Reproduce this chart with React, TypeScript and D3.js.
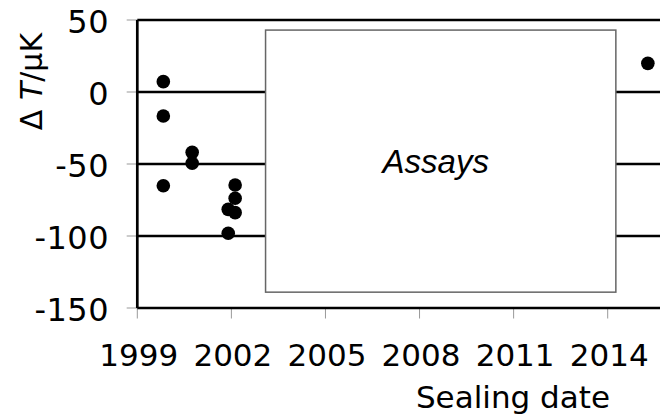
import * as d3 from "d3";
import * as React from "react";

// sealing date (decimal year) and temperature difference in microkelvin
const sealingYears = [1999.83, 1999.83, 1999.83, 2000.75, 2000.75, 2002.12, 2002.12, 2001.9, 2002.12, 2001.9, 2015.28];
const deltaT = [7.2, -16.7, -65.1, -41.9, -49.5, -64.6, -73.8, -81.5, -83.8, -98.1, 19.9];

const xTickYears = [1999, 2002, 2005, 2008, 2011, 2014];
const yTicks = [50, 0, -50, -100, -150];
const yGrid = [0, -50, -100];

// the "Assays" box (years / µK)
const assayYears = [2003.09, 2014.26];
const assayRange = [43, -139];
const assayLabel = "Assays";

const xTitle = "Sealing date";

export default function App() {
  const ref = React.useRef<SVGSVGElement>(null);

  React.useEffect(() => {
    const width = 660;
    const height = 416;

    const svg = d3.select(ref.current);
    svg.selectAll("*").remove();
    svg.attr("width", width).attr("height", height);

    // axis continues past the right edge of the picture
    const x = d3.scaleLinear().domain([1999, 2014]).range([137.3, 607.7]);
    const y = d3.scaleLinear().domain([-150, 50]).range([308, 20]);

    const font = "'DejaVu Sans', Verdana, sans-serif";

    // grid lines
    svg.append("g")
      .selectAll("line")
      .data(yGrid)
      .join("line")
      .attr("x1", x(1999))
      .attr("x2", width)
      .attr("y1", d => y(d))
      .attr("y2", d => y(d))
      .attr("stroke", "#000")
      .attr("stroke-width", 2.5);

    // assays box over the grid
    svg.append("rect")
      .attr("x", x(assayYears[0]))
      .attr("y", y(assayRange[0]))
      .attr("width", x(assayYears[1]) - x(assayYears[0]))
      .attr("height", y(assayRange[1]) - y(assayRange[0]))
      .attr("fill", "#fff")
      .attr("stroke", "#666")
      .attr("stroke-width", 1.5);

    svg.append("text")
      .attr("x", x((assayYears[0] + assayYears[1]) / 2) - 5)
      .attr("y", 173)
      .attr("text-anchor", "middle")
      .attr("font-family", "'Liberation Sans', Arial, sans-serif")
      .attr("font-style", "italic")
      .attr("font-size", 33)
      .text(assayLabel);

    // tick marks (grey)
    svg.append("g")
      .selectAll("line")
      .data(yTicks)
      .join("line")
      .attr("x1", 126.7)
      .attr("x2", x(1999))
      .attr("y1", d => y(d))
      .attr("y2", d => y(d))
      .attr("stroke", "#999")
      .attr("stroke-width", 1);

    svg.append("g")
      .selectAll("line")
      .data(xTickYears)
      .join("line")
      .attr("x1", d => x(d))
      .attr("x2", d => x(d))
      .attr("y1", y(-150))
      .attr("y2", y(-150) + 10.5)
      .attr("stroke", "#999")
      .attr("stroke-width", 1);

    // axis frame: left, top, bottom
    const frame = svg.append("g").attr("stroke", "#000").attr("stroke-width", 2.7);
    frame.append("line").attr("x1", x(1999)).attr("x2", x(1999)).attr("y1", y(50)).attr("y2", y(-150));
    frame.append("line").attr("x1", x(1999)).attr("x2", width).attr("y1", y(50)).attr("y2", y(50));
    frame.append("line").attr("x1", x(1999)).attr("x2", width).attr("y1", y(-150)).attr("y2", y(-150));

    // tick labels
    svg.append("g")
      .selectAll("text")
      .data(yTicks)
      .join("text")
      .attr("x", 109)
      .attr("y", d => y(d) + 12.5)
      .attr("text-anchor", "end")
      .attr("font-family", font)
      .attr("font-size", 32)
      .attr("letter-spacing", 0.5)
      .text(d => String(d));

    svg.append("g")
      .selectAll("text")
      .data(xTickYears)
      .join("text")
      .attr("x", d => x(d) + 1.5)
      .attr("y", 366)
      .attr("text-anchor", "middle")
      .attr("font-family", font)
      .attr("font-size", 31)
      .text(d => String(d));

    svg.append("text")
      .attr("x", 610)
      .attr("y", 408)
      .attr("text-anchor", "end")
      .attr("font-family", font)
      .attr("font-size", 31)
      .text(xTitle);

    const yTitle = svg.append("text")
      .attr("transform", "translate(42,81.5) rotate(-90)")
      .attr("text-anchor", "middle")
      .attr("font-family", font)
      .attr("font-size", 30);
    yTitle.append("tspan").text("\u0394 ");
    yTitle.append("tspan").attr("font-style", "italic").text("T");
    yTitle.append("tspan").text("/\u03bcK");

    // points
    svg.append("g")
      .selectAll("circle")
      .data(sealingYears.map((yr, i) => ({ yr, v: deltaT[i] })))
      .join("circle")
      .attr("cx", d => x(d.yr))
      .attr("cy", d => y(d.v))
      .attr("r", 6.8)
      .attr("fill", "#000");
  }, []);

  return (
    <div style={{ position: "absolute", left: 0, top: 0 }}>
      <svg ref={ref} style={{ display: "block" }}></svg>
    </div>
  );
}
